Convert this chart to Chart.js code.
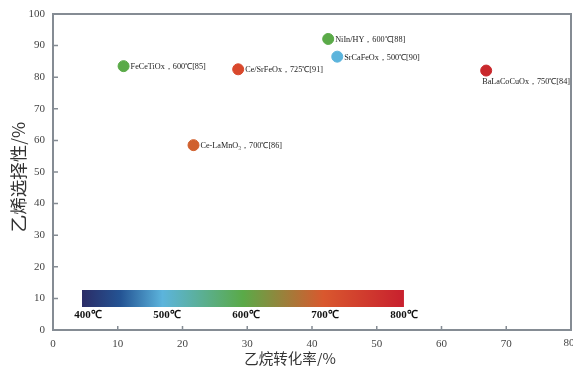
<!DOCTYPE html>
<html>
<head>
<meta charset="utf-8">
<script src="https://cdn.jsdelivr.net/npm/chart.js@4"></script>
<style>
  body { margin: 0; background: #fff; }
  #wrap { width: 573px; height: 366px; }
</style>
</head>
<body>
<div id="wrap"><canvas id="chart"></canvas></div>
<script>
// catalysts: ethane conversion (%) vs ethylene selectivity (%)
const catalysts = ["FeCeTiOx，600℃[85]", "Ce/SrFeOx，725℃[91]", "Ce-LaMnO₃，700℃[86]", "NiIn/HY，600℃[88]", "SrCaFeOx，500℃[90]", "BaLaCoCuOx，750℃[84]"];
const conversion = [10.9, 28.6, 21.7, 42.5, 43.9, 66.9];
const selectivity = [83.5, 82.5, 58.5, 92.1, 86.5, 82.1];
const pointColors = ["#5aaa48", "#d9482c", "#d0602e", "#5aaa48", "#5cb4dc", "#c9282c"];
const tempLabels = ["400℃", "500℃", "600℃", "700℃", "800℃"];

const axisColor = "#858c94";
const serif = "'Liberation Serif', serif";

const decor = {
  id: "decor",
  afterDraw(chart) {
    const ctx = chart.ctx;
    const a = chart.chartArea;
    const xs = chart.scales.x, ys = chart.scales.y;
    ctx.save();
    // frame
    ctx.strokeStyle = axisColor;
    ctx.lineWidth = 2;
    ctx.strokeRect(a.left, a.top, a.right - a.left, a.bottom - a.top);
    // inward ticks
    ctx.lineWidth = 1.5;
    ctx.beginPath();
    for (let v = 10; v < 80; v += 10) {
      const px = xs.getPixelForValue(v);
      ctx.moveTo(px, a.bottom); ctx.lineTo(px, a.bottom - 4);
    }
    for (let v = 10; v < 100; v += 10) {
      const py = ys.getPixelForValue(v);
      ctx.moveTo(a.left, py); ctx.lineTo(a.left + 5, py);
    }
    ctx.stroke();

    // last x tick label (sits on the canvas edge)
    ctx.fillStyle = "#444";
    ctx.font = "11px " + serif;
    ctx.textAlign = "center";
    ctx.textBaseline = "middle";
    ctx.fillText("80", xs.getPixelForValue(80) - 2, 343);

    // axis titles
    ctx.fillStyle = "#333";
    ctx.font = "14.5px 'Noto Sans CJK SC'";
    ctx.fillText("乙烷转化率/%", 290, 358);
    ctx.save();
    ctx.translate(18, 177);
    ctx.rotate(-Math.PI / 2);
    ctx.font = "17.5px 'Noto Sans CJK SC'";
    ctx.fillText("乙烯选择性/%", 0, 0);
    ctx.restore();

    // point labels
    ctx.fillStyle = "#222";
    ctx.font = "8.2px " + serif;
    ctx.textAlign = "left";
    const meta = chart.getDatasetMeta(0);
    meta.data.forEach((pt, i) => {
      if (i === 5) {
        ctx.fillText(catalysts[i], pt.x - 4, pt.y + 11);
      } else {
        ctx.fillText(catalysts[i], pt.x + 7, pt.y + 1);
      }
    });

    // temperature colour bar
    const x0 = xs.getPixelForValue(4.48), x1 = xs.getPixelForValue(54.2);
    const y0 = 290, h = 17;
    const g = ctx.createLinearGradient(x0, 0, x1, 0);
    g.addColorStop(0, "#2b2c66");
    g.addColorStop(0.12, "#245494");
    g.addColorStop(0.25, "#5cb4dc");
    g.addColorStop(0.5, "#5aaa48");
    g.addColorStop(0.75, "#d9582e");
    g.addColorStop(1, "#c8202e");
    ctx.fillStyle = g;
    ctx.fillRect(x0, y0, x1 - x0, h);
    ctx.fillStyle = "#111";
    ctx.font = "bold 11px " + serif;
    ctx.textAlign = "center";
    tempLabels.forEach((t, i) => {
      ctx.fillText(t, x0 + 6 + (x1 - x0 - 6) * i / 4, 315);
    });
    ctx.restore();
  }
};

new Chart(document.getElementById("chart"), {
  type: "scatter",
  data: {
    datasets: [
      {
        label: "catalysts",
        data: conversion.map((x, i) => ({ x: x, y: selectivity[i] })),
        backgroundColor: pointColors,
        borderColor: pointColors,
        pointRadius: 5.5,
        pointHoverRadius: 5.5,
      },
    ],
  },
  options: {
    responsive: true,
    maintainAspectRatio: false,
    animation: false,
    layout: { autoPadding: false, padding: { left: 0, right: 2, top: 14, bottom: 0 } },
    plugins: { legend: { display: false }, tooltip: { enabled: false } },
    scales: {
      x: {
        min: 0, max: 80,
        ticks: {
          stepSize: 10, color: "#444", padding: 8, maxRotation: 0,
          font: { family: serif, size: 11 },
          callback: (v) => (v === 80 ? "" : v),
        },
        grid: { display: false, drawTicks: false },
        border: { display: false },
        afterFit(s) { s.height = 36; s.paddingLeft = 0; s.paddingRight = 0; },
      },
      y: {
        min: 0, max: 100,
        ticks: { stepSize: 10, color: "#444", padding: 8, font: { family: serif, size: 11 } },
        grid: { display: false, drawTicks: false },
        border: { display: false },
        afterFit(s) { s.width = 53; s.paddingTop = 0; s.paddingBottom = 0; },
      },
    },
  },
  plugins: [decor],
});
</script>
</body>
</html>
